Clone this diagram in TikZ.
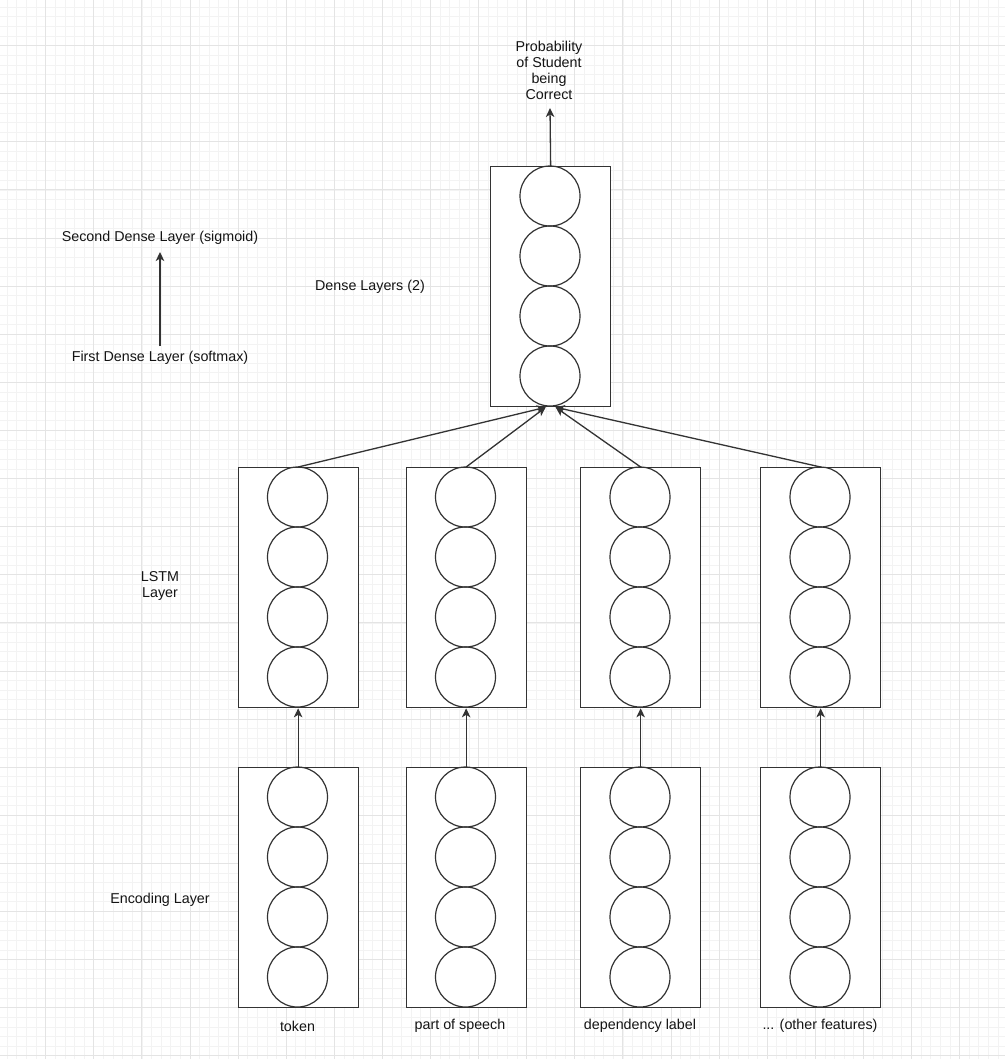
\documentclass[tikz,border=0pt]{standalone}
\usepackage{fontspec}
\setmainfont{Liberation Sans}
\usetikzlibrary{arrows.meta}
\definecolor{linecol}{HTML}{333333}
\definecolor{textcol}{HTML}{141414}
\definecolor{majorcol}{HTML}{E4E4E4}
\definecolor{minorcol}{HTML}{F3F3F3}
\begin{document}
\begin{tikzpicture}[x=1pt,y=-1pt,
  layerbox/.style={draw=linecol, line width=1.3pt, fill=white, minimum width=120pt, minimum height=240pt, inner sep=0pt, anchor=north west},
  unit/.style={draw=linecol, line width=1.2pt, circle, minimum size=60pt, inner sep=0pt},
  arr/.style={draw=linecol, line width=1.3pt, -{Stealth[length=9pt,width=8.5pt,inset=2.5pt]}},
  lbl/.style={font=\fontsize{14.3}{15.9}\selectfont, text=textcol, align=center, inner sep=0pt},
  minorgrid/.style={draw=minorcol, line width=0.8pt},
  majorgrid/.style={draw=majorcol, line width=1pt},
]
\useasboundingbox (0,0) rectangle (1005,1059);
\fill[white] (0,0) rectangle (1005,1059);
\begin{scope}
\clip (0,0) rectangle (1005,1059);
\foreach \i in {0,...,105} \draw[minorgrid] ({-2.4+9.62*\i},0) -- ({-2.4+9.62*\i},1059);
\foreach \i in {0,...,110} \draw[minorgrid] (0,{-2.4+9.62*\i}) -- (1005,{-2.4+9.62*\i});
\foreach \i in {0,...,21} \draw[majorgrid] ({-2.4+48.1*\i},0) -- ({-2.4+48.1*\i},1059);
\foreach \i in {0,...,22} \draw[majorgrid] (0,{-2.4+48.1*\i}) -- (1005,{-2.4+48.1*\i});
\end{scope}

% dense layers
\node[layerbox] (d) at (490,166) {};
\foreach \k in {0,1,2,3} \node[unit] (du\k) at (550,{196+60*\k}) {};

% LSTM and encoding columns
\foreach \n/\x in {1/237.5,2/405.5,3/580,4/760} {
  \node[layerbox] (l\n) at (\x,467) {};
  \node[layerbox] (e\n) at (\x,767) {};
  \foreach \k in {0,1,2,3} {
    \node[unit] (l\n u\k) at ({\x+60},{497+60*\k}) {};
    \node[unit] (e\n u\k) at ({\x+60},{797+60*\k}) {};
  }
  \draw[arr] (e\n.north) -- (l\n.south);
}

% LSTM -> dense
\coordinate (dinl) at ([xshift=-5pt]d.south);
\coordinate (dinr) at ([xshift=5pt]d.south);
\draw[arr] (l1.north) -- (dinl);
\draw[arr] (l2.north) -- (dinl);
\draw[arr] (l3.north) -- (dinr);
\draw[arr] (l4.north) -- (dinr);

% output
\node[lbl] (prob) at (549,70.5) {Probability\\of Student\\being\\Correct};
\coordinate (probin) at (550,108);
\draw[arr] (d.north) -- (probin);

% legend
\node[lbl] (second) at (160,238.3) {Second Dense Layer (sigmoid)};
\node[lbl] (first) at (160,358) {First Dense Layer (softmax)};
\coordinate (firsttop) at (160,346);
\coordinate (secondbot) at (160,252);
\draw[arr] (firsttop) -- (secondbot);

% layer labels
\node[lbl] (densel) at (370,286.7) {Dense Layers (2)};
\node[lbl] (lstml) at (160,586) {LSTM\\Layer};
\node[lbl] (encl) at (160,900) {Encoding Layer};

% feature labels
\node[lbl] (f1) at (297.5,1026) {token};
\node[lbl] (f2) at (460,1026) {part of speech};
\node[lbl] (f3) at (640,1026) {dependency label};
\node[lbl] (f4) at (820,1026) {... (other features)};
\end{tikzpicture}
\end{document}
